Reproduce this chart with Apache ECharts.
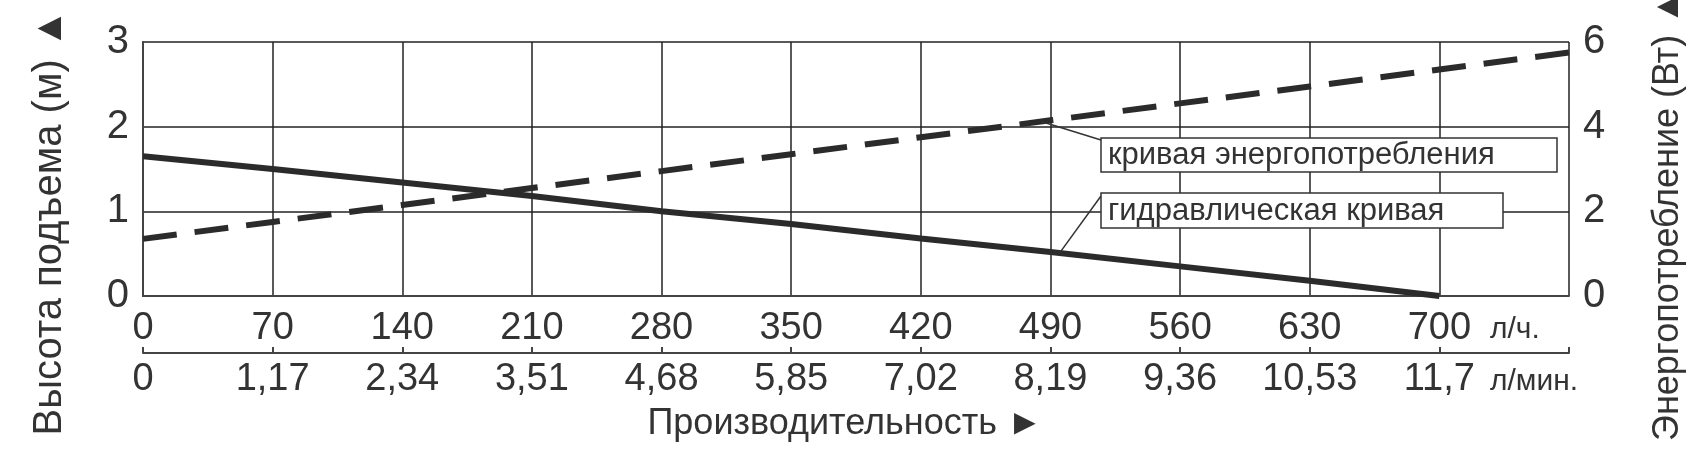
<!DOCTYPE html>
<html>
<head>
<meta charset="utf-8">
<script src="https://cdn.jsdelivr.net/npm/echarts@6/dist/echarts.min.js"></script>
<style>
html,body{margin:0;padding:0;background:#fff}
#main{width:1703px;height:450px}
</style>
</head>
<body>
<div id="main"></div>
<script>
// data
var flowLh = [0, 70, 140, 210, 280, 350, 420, 490, 560, 630, 700, 770];
var flowLmin = ['0', '1,17', '2,34', '3,51', '4,68', '5,85', '7,02', '8,19', '9,36', '10,53', '11,7'];
var headM = [1.65, 1.5, 1.34, 1.18, 1.0, 0.85, 0.68, 0.52, 0.35, 0.18, 0];
var powerW = [1.35, 1.75, 2.15, 2.55, 2.95, 3.35, 3.75, 4.15, 4.55, 4.95, 5.35, 5.75];

var font = "'Liberation Sans Narrow', 'Liberation Sans', Arial, sans-serif";
var ink = '#2b2b2b';

window.onload = function () {
	var myChart = echarts.init(document.getElementById('main'));

	var headData = headM.map(function (v, i) { return [flowLh[i], v]; });
	var powerData = powerW.map(function (v, i) { return [flowLh[i], v]; });

	option = {
		animation: false,
		grid: { left: 143, right: 134, top: 42, bottom: 154 },
		xAxis: [{
			type: 'value', min: 0, max: 770, interval: 70,
			axisLine: { onZero: false, lineStyle: { color: '#444', width: 2 } },
			axisTick: { show: false },
			splitLine: { show: true, lineStyle: { color: '#222', width: 1.5 } },
			axisLabel: {
				color: '#333', fontSize: 38, fontFamily: font, margin: 14,
				formatter: function (v) { return v > 700 ? '' : v; }
			}
		}, {
			type: 'value', min: 0, max: 770, interval: 70, position: 'bottom', offset: 57,
			axisLine: { show: true, onZero: false, lineStyle: { color: '#444', width: 2 } },
			axisTick: { show: true, inside: true, length: 6, lineStyle: { color: '#444', width: 2 } },
			splitLine: { show: false },
			axisLabel: {
				color: '#333', fontSize: 38, fontFamily: font, margin: 8,
				formatter: function (v) { var i = Math.round(v / 70); return flowLmin[i] || ''; }
			}
		}],
		yAxis: [{
			type: 'value', min: 0, max: 3, interval: 1,
			axisLine: { show: true, lineStyle: { color: '#444', width: 2 } },
			axisTick: { show: false },
			splitLine: { show: true, lineStyle: { color: '#222', width: 1.5 } },
			axisLabel: { color: '#333', fontSize: 40, fontFamily: font, margin: 14 }
		}, {
			type: 'value', min: 0, max: 6, interval: 2,
			axisLine: { show: true, lineStyle: { color: '#444', width: 2 } },
			axisTick: { show: false },
			splitLine: { show: false },
			axisLabel: { color: '#333', fontSize: 40, fontFamily: font, margin: 14 }
		}],
		series: [{
			name: 'гидравлическая кривая',
			type: 'line', xAxisIndex: 0, yAxisIndex: 0,
			data: headData, showSymbol: false,
			lineStyle: { color: ink, width: 6 }
		}, {
			name: 'кривая энергопотребления',
			type: 'line', xAxisIndex: 0, yAxisIndex: 1,
			data: powerData, showSymbol: false,
			lineStyle: { color: ink, width: 6, type: [34, 18] }
		}]
	};
	myChart.setOption(option);

	// leader anchors on the curves
	var pA = myChart.convertToPixel({ xAxisIndex: 0, yAxisIndex: 1 }, [485, 4.12]);
	var pB = myChart.convertToPixel({ xAxisIndex: 0, yAxisIndex: 0 }, [495, 0.51]);
	var yLine2 = 296 + 57;

	myChart.setOption({
		graphic: [
			{ type: 'line', shape: { x1: 143, y1: yLine2, x2: 1569, y2: yLine2 }, style: { stroke: '#444', lineWidth: 2 } },
			{ type: 'line', shape: { x1: pA[0], y1: pA[1], x2: 1101, y2: 140 }, style: { stroke: '#333', lineWidth: 1.5 }, z: 10 },
			{ type: 'line', shape: { x1: pB[0], y1: pB[1], x2: 1101, y2: 196 }, style: { stroke: '#333', lineWidth: 1.5 }, z: 10 },
			{ type: 'rect', shape: { x: 1101, y: 138, width: 456, height: 34 }, style: { fill: '#fff', stroke: '#333', lineWidth: 1.5 }, z: 11 },
			{ type: 'text', x: 1108, y: 155, style: { text: 'кривая энергопотребления', font: '31px ' + font, fill: '#333', verticalAlign: 'middle' }, z: 12 },
			{ type: 'rect', shape: { x: 1101, y: 193, width: 402, height: 35 }, style: { fill: '#fff', stroke: '#333', lineWidth: 1.5 }, z: 11 },
			{ type: 'text', x: 1108, y: 211, style: { text: 'гидравлическая кривая', font: '31px ' + font, fill: '#333', verticalAlign: 'middle' }, z: 12 },
			{ type: 'text', x: 1490, y: 330, style: { text: 'л/ч.', font: '30px ' + font, fill: '#333', verticalAlign: 'middle' } },
			{ type: 'text', x: 1490, y: 382, style: { text: 'л/мин.', font: '30px ' + font, fill: '#333', verticalAlign: 'middle' } },
			{ type: 'text', x: 845, y: 424, style: { text: 'Производительность ►', font: '36px ' + font, fill: '#333', align: 'center', verticalAlign: 'middle' } },
			{ type: 'text', x: 50, y: 222, rotation: Math.PI / 2, style: { text: 'Высота подъема (м) ▲', font: '40px ' + font, fill: '#333', align: 'center', verticalAlign: 'middle' } },
			{ type: 'text', x: 1668, y: 215, rotation: Math.PI / 2, style: { text: 'Энергопотребление (Вт) ▲', font: '36px ' + font, fill: '#333', align: 'center', verticalAlign: 'middle' } }
		]
	});
};
</script>
</body>
</html>
